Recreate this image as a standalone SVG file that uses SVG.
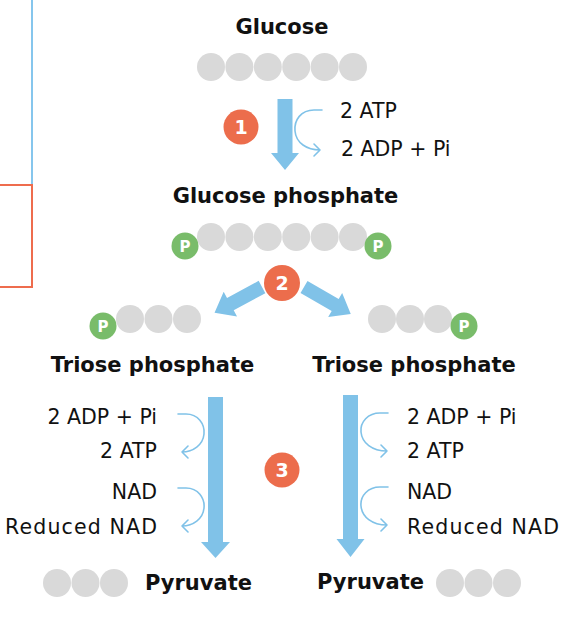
<svg xmlns="http://www.w3.org/2000/svg" width="574" height="636" viewBox="0 0 574 636">
<defs>
<style>
.title{font-family:"DejaVu Sans","Liberation Sans",sans-serif;font-weight:bold;font-size:21px;fill:#111;}
.lbl{font-family:"DejaVu Sans","Liberation Sans",sans-serif;font-size:20.5px;fill:#111;}
.c{fill:#d9d9d9;}
.p{fill:#79bc6a;}
.pt{font-family:"DejaVu Sans","Liberation Sans",sans-serif;font-weight:bold;font-size:15px;fill:#fff;text-anchor:middle;}
.badge{fill:#ec6d4c;}
.bt{font-family:"DejaVu Sans","Liberation Sans",sans-serif;font-weight:bold;font-size:19px;fill:#fff;text-anchor:middle;}
.big{fill:#80c2e8;}
.curve{fill:none;stroke:#80c2e8;stroke-width:1.6;stroke-linecap:round;stroke-linejoin:round;}
</style>
<symbol id="arr" overflow="visible"><polygon points="0,-7 36,-7 36,-14 54,0 36,14 36,7 0,7"/></symbol>
</defs>
<rect width="574" height="636" fill="#fff"/>
<line x1="32" y1="0" x2="32" y2="185" stroke="#86c6ed" stroke-width="2"/>
<rect x="-5" y="185" width="37" height="102" fill="none" stroke="#ee6c4d" stroke-width="2"/>

<g id="glucose">
<text class="title" x="282" y="34" text-anchor="middle">Glucose</text>
<circle class="c" cx="211" cy="67" r="14"/><circle class="c" cx="239.4" cy="67" r="14"/><circle class="c" cx="267.8" cy="67" r="14"/><circle class="c" cx="296.2" cy="67" r="14"/><circle class="c" cx="324.6" cy="67" r="14"/><circle class="c" cx="353" cy="67" r="14"/>
</g>

<g id="glucose-phosphate">
<text class="title" x="285.5" y="203" text-anchor="middle">Glucose phosphate</text>
<circle class="c" cx="211" cy="237" r="14"/><circle class="c" cx="239.4" cy="237" r="14"/><circle class="c" cx="267.8" cy="237" r="14"/><circle class="c" cx="296.2" cy="237" r="14"/><circle class="c" cx="324.6" cy="237" r="14"/><circle class="c" cx="353" cy="237" r="14"/>
<circle class="p" cx="185" cy="246" r="13.5"/><text class="pt" x="185" y="251.5">P</text>
<circle class="p" cx="378" cy="246" r="13.5"/><text class="pt" x="378" y="251.5">P</text>
</g>

<g id="triose-left">
<circle class="c" cx="130" cy="319" r="14"/><circle class="c" cx="158.5" cy="319" r="14"/><circle class="c" cx="187" cy="319" r="14"/>
<circle class="p" cx="103" cy="326" r="13.5"/><text class="pt" x="103" y="331.5">P</text>
<text class="title" x="152.5" y="372" text-anchor="middle">Triose phosphate</text>
</g>

<g id="triose-right">
<circle class="c" cx="382" cy="319" r="14"/><circle class="c" cx="410" cy="319" r="14"/><circle class="c" cx="438" cy="319" r="14"/>
<circle class="p" cx="464" cy="326" r="13.5"/><text class="pt" x="464" y="331.5">P</text>
<text class="title" x="414" y="372" text-anchor="middle">Triose phosphate</text>
</g>

<g id="pyruvate-left">
<circle class="c" cx="57" cy="583" r="14"/><circle class="c" cx="85.5" cy="583" r="14"/><circle class="c" cx="114" cy="583" r="14"/>
<text class="title" x="145" y="590">Pyruvate</text>
</g>

<g id="pyruvate-right">
<text class="title" x="424" y="589" text-anchor="end">Pyruvate</text>
<circle class="c" cx="450" cy="583" r="14"/><circle class="c" cx="478.5" cy="583" r="14"/><circle class="c" cx="507" cy="583" r="14"/>
</g>

<g id="labels-step1">
<text class="lbl" x="340" y="118">2 ATP</text>
<text class="lbl" x="341" y="156">2 ADP + Pi</text>
</g>

<g id="labels-left">
<text class="lbl" x="157" y="424" text-anchor="end">2 ADP + Pi</text>
<text class="lbl" x="157" y="458" text-anchor="end">2 ATP</text>
<text class="lbl" x="157" y="499" text-anchor="end">NAD</text>
<text class="lbl" x="157" y="534" text-anchor="end" textLength="152" lengthAdjust="spacing">Reduced NAD</text>
</g>

<g id="labels-right">
<text class="lbl" x="407" y="424">2 ADP + Pi</text>
<text class="lbl" x="407" y="458">2 ATP</text>
<text class="lbl" x="407" y="499">NAD</text>
<text class="lbl" x="407" y="534" textLength="152" lengthAdjust="spacing">Reduced NAD</text>
</g>

<g id="connectors">
<polygon class="big" points="277.5,99 292.5,99 292.5,153 299,153 285,170 271,153 277.5,153"/>
<polygon class="big" points="208,397 223,397 223,542 230,542 215.5,558 201,542 208,542"/>
<polygon class="big" points="343,395 358,395 358,539 364.5,539 350.5,557 336.5,539 343,539"/>
<use href="#arr" class="big" transform="translate(262,287) rotate(151.5)"/>
<use href="#arr" class="big" transform="translate(304,287) rotate(30)"/>
<path class="curve" d="M322,110 L314,110 C301,110 294,120 295,131 C296,143 307,150 320,150 M314,144 L320,150 L314,156"/>
<path class="curve" d="M178,414 L186,414 C198,414 205,424 204,434 C203,445 193,452 182,452 M188,446 L182,452 L188,458"/>
<path class="curve" d="M178,488 L186,488 C198,488 205,498 204,508 C203,519 193,526 182,526 M188,520 L182,526 L188,532"/>
<path class="curve" d="M388,413 L380,413 C368,413 360,422 361,432 C362,443 372,451 387,451 M381,445 L387,451 L381,457"/>
<path class="curve" d="M388,487 L380,487 C368,487 360,496 361,506 C362,517 372,525 387,525 M381,519 L387,525 L381,531"/>
</g>

<g id="badge-1"><circle class="badge" cx="241" cy="127" r="17.5"/><text class="bt" x="241" y="134">1</text></g>
<g id="badge-2"><circle class="badge" cx="282" cy="283" r="18"/><text class="bt" x="282" y="290">2</text></g>
<g id="badge-3"><circle class="badge" cx="282" cy="470" r="17.5"/><text class="bt" x="282" y="477">3</text></g>
</svg>
